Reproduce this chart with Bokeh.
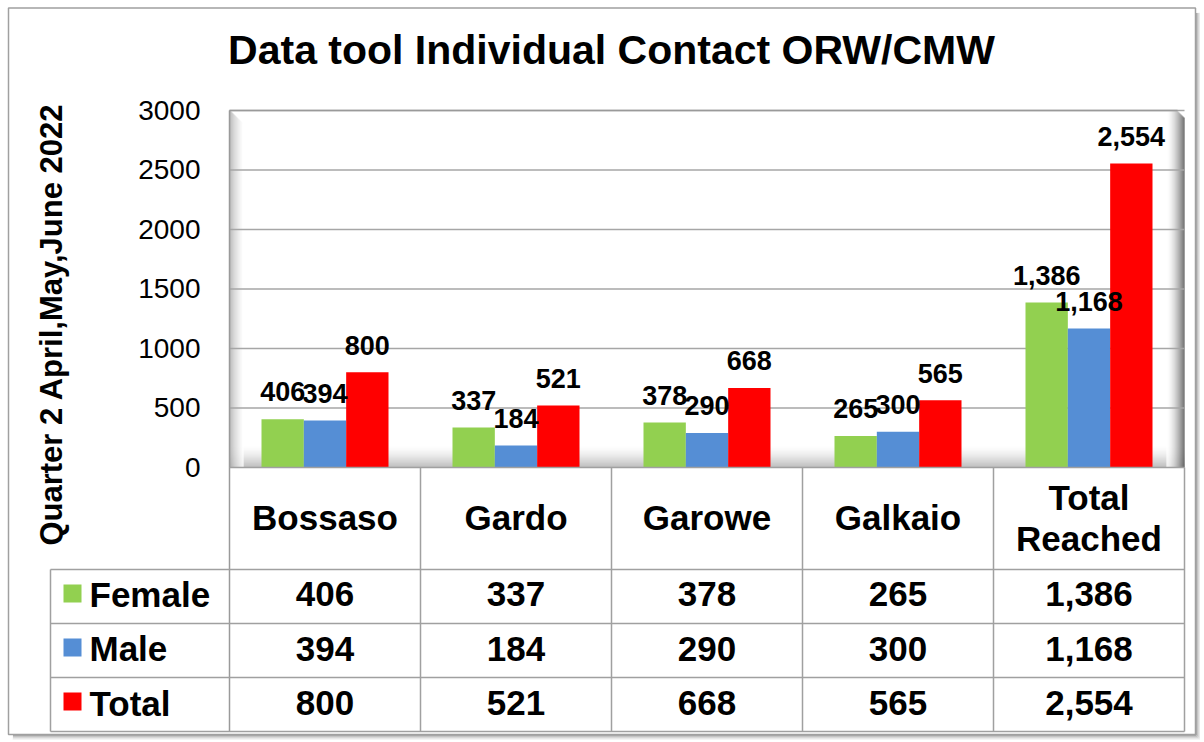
import math
from bokeh.plotting import figure
from bokeh.models import ColumnDataSource, Range1d
from bokeh.core.properties import value
from bokeh.embed import file_html
from bokeh.resources import INLINE

# ---------------- data ----------------
title_text = "Data tool Individual Contact ORW/CMW"
y_axis_title = "Quarter 2 April,May,June 2022"
categories = ["Bossaso", "Gardo", "Garowe", "Galkaio", "Total Reached"]
category_lines = [["Bossaso"], ["Gardo"], ["Garowe"], ["Galkaio"], ["Total", "Reached"]]
series_names = ["Female", "Male", "Total"]
female = [406, 337, 378, 265, 1386]
male = [394, 184, 290, 300, 1168]
total = [800, 521, 668, 565, 2554]
y_ticks = [0, 500, 1000, 1500, 2000, 2500, 3000]
series_colors = ["#92D050", "#558ED5", "#FF0000"]

# ---------------- layout (page pixels) ----------------
W, H = 1200, 740
OX, OY = 0, 0                 # figure origin on page
PX0, COLW = 229, 191          # first category column left edge / column width
Y0_PX, PX_PER_UNIT = 467, 357.0 / 3000.0
FONT = value("Liberation Sans")
SH = 0.38                     # baseline correction (em) of the text renderer


def dx(px):
    return (px - PX0) / COLW


def dy(py):
    return (Y0_PX - py) / PX_PER_UNIT


def base(py, fs):
    return dy(py - SH * fs)


p = figure(width=W, height=H,
           x_range=Range1d(dx(OX), dx(OX + W)),
           y_range=Range1d(dy(OY + H), dy(OY)),
           x_axis_location=None, y_axis_location=None,
           output_backend="svg", toolbar_location=None,
           min_border=0, outline_line_color=None,
           background_fill_color="white", border_fill_color="white")
p.grid.visible = False


def gray(v):
    v = int(max(0, min(255, round(v))))
    return "#%02x%02x%02x" % (v, v, v)


# outer card border + shadow
for k, g in enumerate([170, 195, 215, 232, 244, 251]):
    p.quad(left=dx(12), right=dx(1195 + k + 1), top=dy(12), bottom=dy(734 + k + 1),
           fill_color=None, line_color=gray(g), line_width=1)
p.quad(left=dx(8), right=dx(1195), top=dy(7.5), bottom=dy(734),
       fill_color="white", line_color="#a0a0a0", line_width=1.5)

# plot-area 3D floor
n = 22
for i in range(n):
    y_a = 445 + i
    p.quad(left=dx(229), right=dx(1184), top=dy(y_a), bottom=dy(y_a + 1.05),
           fill_color=gray(255 - 85 * (i / (n - 1)) ** 1.4), line_color=None)
# left wall
n = 14
for i in range(n):
    x_a = 229 + i
    p.quad(left=dx(x_a), right=dx(x_a + 1.05), top=dy(110 + i), bottom=dy(467),
           fill_color=gray(160 + 95 * (i / (n - 1)) ** 0.7), line_color=None)
# right wall
n = 18
for i in range(n):
    x_a = 1166 + i
    top_px = 110 + max(0, x_a - 1176)
    p.quad(left=dx(x_a), right=dx(x_a + 1.05), top=dy(top_px), bottom=dy(467),
           fill_color=gray(255 - 175 * (i / (n - 1)) ** 1.6), line_color=None)

# gridlines
p.segment(x0=[dx(229)] * (len(y_ticks) - 1), x1=[dx(1184)] * (len(y_ticks) - 1),
          y0=y_ticks[1:], y1=y_ticks[1:], line_color="#a6a6a6", line_width=1.5)
# plot top edge & left edge
p.segment(x0=[dx(229)], x1=[dx(1177)], y0=[y_ticks[-1]], y1=[y_ticks[-1]],
          line_color="#9a9a9a", line_width=1.5)
p.segment(x0=[dx(229)], x1=[dx(229)], y0=[y_ticks[-1]], y1=[dy(731)],
          line_color="#9a9a9a", line_width=1.5)

# bars (all bars first, then all value labels on top)
bar_w = 127.0 / 191.0 / 3.0
offsets = [-bar_w, 0.0, bar_w]
series_vals = [female, male, total]
sources = []
for vals, col, off in zip(series_vals, series_colors, offsets):
    src = ColumnDataSource(dict(
        x=[i + 0.5 + off for i in range(len(categories))],
        top=vals,
        label=["{:,}".format(v) for v in vals]))
    sources.append(src)
    p.vbar(x="x", top="top", bottom=0, width=bar_w, source=src,
           fill_color=col, line_color=None)
for src in sources:
    p.text(x="x", y="top", text="label", source=src, y_offset=-17 - SH * 27,
           text_font=FONT, text_font_style="bold", text_font_size="27px",
           text_align="center", text_baseline="alphabetic", text_color="black")

# y tick labels
p.text(x=[dx(200)] * len(y_ticks), y=y_ticks, text=[str(t) for t in y_ticks],
       y_offset=10.5 - SH * 28, text_font=FONT, text_font_size="28px",
       text_align="right", text_baseline="alphabetic", text_color="black")

# y axis title (rotated; glyph "down" points to +x)
p.text(x=[dx(63 - SH * 31)], y=[dy(324)], text=[y_axis_title], angle=math.pi / 2,
       text_font=FONT, text_font_style="bold", text_font_size="31px",
       text_align="center", text_baseline="alphabetic", text_color="black")

# chart title
p.text(x=[dx(611)], y=[base(65, 41)], text=[title_text],
       text_font=FONT, text_font_style="bold", text_font_size="41px",
       text_align="center", text_baseline="alphabetic", text_color="black")

# ---------------- data table ----------------
row_edges = [569, 623, 677, 731]
col_edges = [PX0 + COLW * i for i in range(len(categories) + 1)]
line_c = "#a0a0a0"
# horizontal lines
p.segment(x0=[dx(229)], x1=[dx(1184)], y0=[dy(467)], y1=[dy(467)],
          line_color=line_c, line_width=1.5)
p.segment(x0=[dx(50)] * len(row_edges), x1=[dx(1184)] * len(row_edges),
          y0=[dy(r) for r in row_edges], y1=[dy(r) for r in row_edges],
          line_color=line_c, line_width=1.5)
# vertical lines
p.segment(x0=[dx(c) for c in col_edges[1:]], x1=[dx(c) for c in col_edges[1:]],
          y0=[dy(467)] * (len(col_edges) - 1), y1=[dy(731)] * (len(col_edges) - 1),
          line_color=line_c, line_width=1.5)
p.segment(x0=[dx(50)], x1=[dx(50)], y0=[dy(569)], y1=[dy(731)],
          line_color=line_c, line_width=1.5)

# category header
hx, hy, ht = [], [], []
for i, lines in enumerate(category_lines):
    if len(lines) == 1:
        baselines = [530]
    else:
        baselines = [510, 551]
    for t, b in zip(lines, baselines):
        hx.append(i + 0.5)
        hy.append(base(b, 35))
        ht.append(t)
p.text(x=hx, y=hy, text=ht, text_font=FONT, text_font_style="bold",
       text_font_size="35px", text_align="center", text_baseline="alphabetic",
       text_color="black")

# value rows
row_baselines = [607, 661.5, 716]
for r, (vals, col, name) in enumerate(zip(series_vals, series_colors, series_names)):
    p.text(x=[i + 0.5 for i in range(len(vals))], y=[base(row_baselines[r], 35)] * len(vals),
           text=["{:,}".format(v) for v in vals],
           text_font=FONT, text_font_style="bold", text_font_size="35px",
           text_align="center", text_baseline="alphabetic", text_color="black")
    cy = (row_edges[r] + row_edges[r] + 54) / 2 - 3
    p.quad(left=dx(63), right=dx(81), top=dy(cy - 9), bottom=dy(cy + 9),
           fill_color=col, line_color=None)
    p.text(x=[dx(89)], y=[base(row_baselines[r], 35)], text=[name],
           text_font=FONT, text_font_style="bold", text_font_size="35px",
           text_align="left", text_baseline="alphabetic", text_color="black")

open("out.html", "w").write(file_html(p, INLINE))
